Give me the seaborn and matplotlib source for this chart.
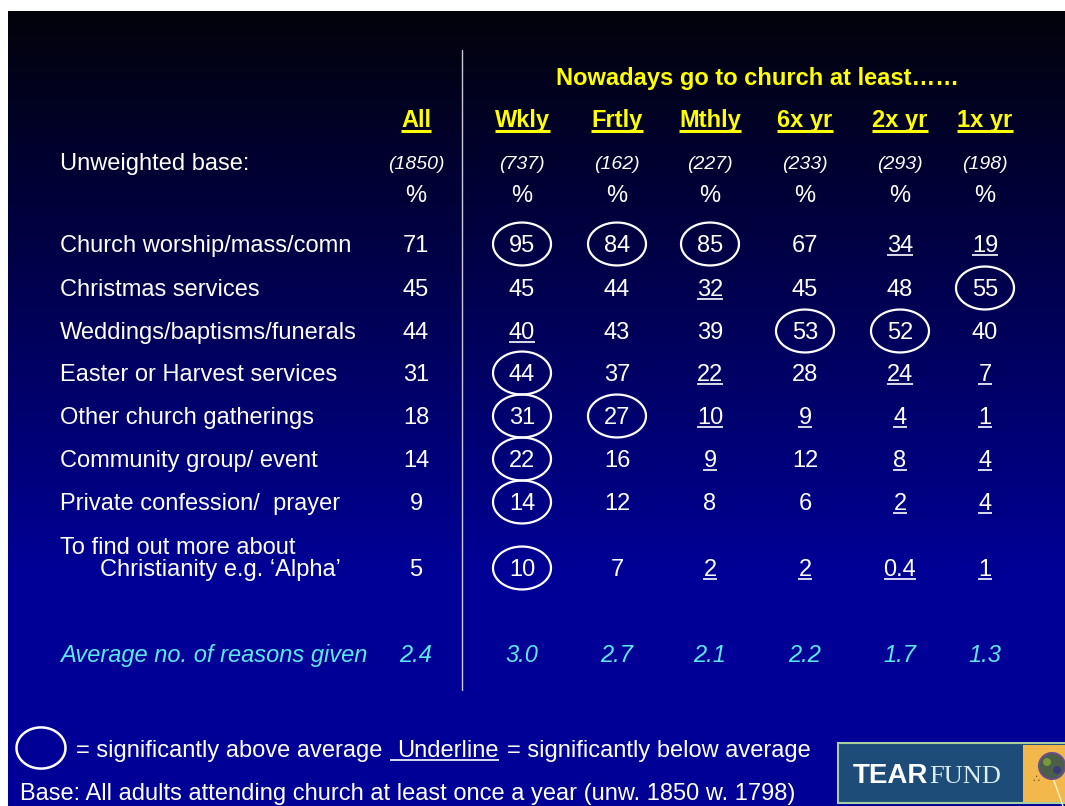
import numpy as np
import pandas as pd
import matplotlib
matplotlib.use("Agg")
import matplotlib.pyplot as plt
import seaborn as sns
from matplotlib.path import Path
from matplotlib.patches import Rectangle, Circle

# data
columns = ["All", "Wkly", "Frtly", "Mthly", "6x yr", "2x yr", "1x yr"]
bases = ["(1850)", "(737)", "(162)", "(227)", "(233)", "(293)", "(198)"]
reasons = ["Church worship/mass/comn", "Christmas services",
           "Weddings/baptisms/funerals", "Easter or Harvest services",
           "Other church gatherings", "Community group/ event",
           "Private confession/  prayer",
           "To find out more about\nChristianity e.g. \u2018Alpha\u2019"]
values = [
    ["71", "95", "84", "85", "67", "34", "19"],
    ["45", "45", "44", "32", "45", "48", "55"],
    ["44", "40", "43", "39", "53", "52", "40"],
    ["31", "44", "37", "22", "28", "24", "7"],
    ["18", "31", "27", "10", "9", "4", "1"],
    ["14", "22", "16", "9", "12", "8", "4"],
    ["9", "14", "12", "8", "6", "2", "4"],
    ["5", "10", "7", "2", "2", "0.4", "1"],
]
# o = significantly above average, u = significantly below average
significance = [
    "-ooo-uu",
    "---u--o",
    "-u--oo-",
    "-o-u-uu",
    "-oouuuu",
    "-o-u-uu",
    "-o---uu",
    "-o-uuuu",
]
averages = ["2.4", "3.0", "2.7", "2.1", "2.2", "1.7", "1.3"]

# layout (pixels)
col_x = [416, 522, 617, 710, 805, 900, 985]
row_y = [244, 288, 331, 373, 416, 459, 502, 568]
FS = 17
CAP = FS * 100 / 72 * 0.716
YELLOW = "#ffff00"
CYAN = "#5ce8f2"

sns.set_style("white")
plt.rcParams["font.family"] = ["Liberation Sans", "DejaVu Sans"]

fig = plt.figure(figsize=(10.65, 8.06), dpi=100)
ax = fig.add_axes([0, 0, 1, 1])
ax.set_xlim(0, 1065)
ax.set_ylim(806, 0)
ax.axis("off")

# background gradient, black at top to blue
py = np.arange(11, 806)
blue = 10 + 140 * np.clip((py - 11) / 560, 0, 1)
grad = np.zeros((len(py), 1, 3))
grad[:, 0, 1] = np.clip(3 - (py - 11) / 60, 0, 3) / 255
grad[:, 0, 0] = grad[:, 0, 1]
grad[:, 0, 2] = blue / 255
ax.imshow(grad, extent=[8, 1065, 806, 11], aspect="auto", zorder=0)

ax.plot([462, 462], [50, 690], color="#c8c8d8", lw=1.0, zorder=1)

underlines = []


def put(x, y, s, ha="center", size=FS, under=False, ucol="white", ulw=1.2,
        uoff=2.5, ulead=0, **kw):
    base = y + size * 100 / 72 * 0.716 / 2
    t = ax.text(x, base, s, ha=ha, va="baseline", fontsize=size, zorder=4, **kw)
    if under:
        underlines.append((t, base + uoff, ucol, ulw, ulead))
    return t


ax.text(757, 77 + CAP / 2, "Nowadays go to church at least\u2026\u2026", ha="center",
        va="baseline", fontsize=FS, color=YELLOW, fontweight="bold", zorder=4)

for x, c in zip(col_x, columns):
    put(x, 119, c, color=YELLOW, fontweight="bold", under=True, ucol=YELLOW,
        ulw=2.2, uoff=3.5)

put(60, 162, "Unweighted base:", ha="left", color="white")
for x, b in zip(col_x, bases):
    put(x, 162, b, size=14, color="white", style="italic")
    put(x, 194, "%", color="white")

for r, (label, y) in enumerate(zip(reasons, row_y)):
    if "\n" in label:
        first, second = label.split("\n")
        put(60, y - 22, first, ha="left", color="white")
        put(100, y, second, ha="left", color="white")
    else:
        put(60, y, label, ha="left", color="white")
    for c, x in enumerate(col_x):
        put(x, y, values[r][c], color="white", under=significance[r][c] == "u")

put(60, 654, "Average no. of reasons given", ha="left", color=CYAN, style="italic")
for x, a in zip(col_x, averages):
    put(x, 654, a, color=CYAN, style="italic")

# circles for significantly above average
circ = pd.DataFrame([(col_x[c], row_y[r]) for r in range(len(row_y))
                     for c in range(len(col_x)) if significance[r][c] == "o"],
                    columns=["x", "y"])
theta = np.linspace(0, 2 * np.pi, 120)
ell = Path(np.column_stack([np.cos(theta), 0.74 * np.sin(theta)]))
sns.scatterplot(data=circ, x="x", y="y", marker=ell, s=(58 / 1.389) ** 2,
                facecolor="none", edgecolor="white", linewidth=1.6, ax=ax,
                zorder=3, legend=False)

# legend
key = pd.DataFrame({"x": [41], "y": [748]})
ell2 = Path(np.column_stack([np.cos(theta), 0.84 * np.sin(theta)]))
sns.scatterplot(data=key, x="x", y="y", marker=ell2, s=(49 / 1.389) ** 2,
                facecolor="none", edgecolor="white", linewidth=1.8, ax=ax,
                zorder=3, legend=False)
put(76, 749, "= significantly above average", ha="left", color="white")
put(397, 749, "Underline", ha="left", color="white", under=True, ulead=7)
put(507, 749, "= significantly below average", ha="left", color="white")
put(20, 792, "Base: All adults attending church at least once a year (unw. 1850 w. 1798)",
    ha="left", color="white")

# logo
ax.add_patch(Rectangle((838, 743), 230, 60, facecolor="#1d4c78",
                       edgecolor="#a8cfa0", lw=1.5, zorder=2))
ax.add_patch(Rectangle((1023, 745), 45, 57, facecolor="#f2b84b",
                       edgecolor="none", zorder=2))
ax.plot([1053, 1063], [778, 806], color="#fff2c0", lw=1.0, zorder=3)
ax.add_patch(Circle((1052, 766), 13, facecolor="#4a5e48", edgecolor="#6a4d8a",
                    lw=1.5, zorder=3))
ax.add_patch(Circle((1047, 762), 4, facecolor="#7a9a3a", edgecolor="none", zorder=3))
ax.add_patch(Circle((1057, 770), 4, facecolor="#3a3a7a", edgecolor="none", zorder=3))
ax.text(1036, 782, "\u2234", ha="center", va="baseline", fontsize=8,
        color="#6a5020", zorder=4, family=["DejaVu Sans"])
tear = ax.text(853, 783, "TEAR", ha="left", va="baseline", fontsize=20,
               fontweight="bold", color="white", zorder=4)

# underlines and logo text measured from rendered text
fig.canvas.draw()
renderer = fig.canvas.get_renderer()
inv = ax.transData.inverted()
bb = tear.get_window_extent(renderer)
xe = inv.transform([[bb.x1, bb.y0]])[0][0]
ax.text(xe + 1, 783, "FUND", ha="left", va="baseline", fontsize=19,
        family=["Liberation Serif", "DejaVu Serif"], color="#d8eef0", zorder=4)
for t, yy, col, lw, lead in underlines:
    bb = t.get_window_extent(renderer)
    (x0, _), (x1, _) = inv.transform([[bb.x0, bb.y0], [bb.x1, bb.y1]])
    ax.plot([x0 - lead, x1], [yy, yy], color=col, lw=lw, solid_capstyle="butt",
            zorder=4)

fig.savefig("out.png", dpi=100, facecolor="white")
